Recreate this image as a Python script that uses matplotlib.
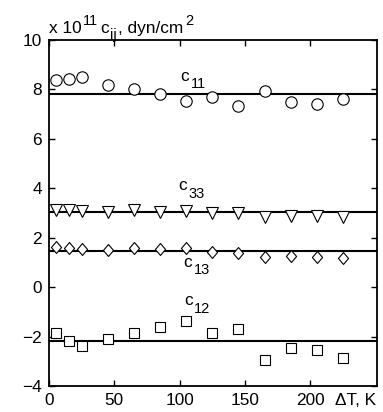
import matplotlib
matplotlib.use("Agg")
import matplotlib.pyplot as plt
from matplotlib.path import Path
from matplotlib.transforms import IdentityTransform

plt.rcParams['font.family'] = ['Liberation Sans', 'DejaVu Sans']

# Temperature offsets (K)
dT = [5, 15, 25, 45, 65, 85, 105, 125, 145, 165, 185, 205, 225]

# Elastic constants, units of 1e11 dyn/cm^2
c11 = [8.37, 8.42, 8.51, 8.17, 8.02, 7.80, 7.53, 7.68, 7.32, 7.95, 7.50, 7.41, 7.61]
c33 = [3.12, 3.12, 3.08, 3.05, 3.12, 3.06, 3.10, 2.98, 2.98, 2.84, 2.88, 2.88, 2.84]
c13 = [1.63, 1.60, 1.55, 1.52, 1.58, 1.54, 1.58, 1.43, 1.39, 1.23, 1.27, 1.23, 1.20]
c12 = [-1.87, -2.16, -2.38, -2.11, -1.85, -1.63, -1.36, -1.87, -1.69, -2.96, -2.46, -2.55, -2.87]

# Mean levels
fit_range = [0, 250]
fit_c11 = 7.80
fit_c33 = 3.05
fit_c13 = 1.46
fit_c12 = -2.18

xticks = [0, 50, 100, 150, 200]
yticks = [-4, -2, 0, 2, 4, 6, 8, 10]

FS = 12.4     # main text size
FS_SUB = 10.5 # sub/superscript size
SHIFT = 7.6   # sub/superscript baseline shift, pixels
GAP = 1.5     # spacing between text pieces, pixels

fig = plt.figure(figsize=(3.83, 4.12), dpi=100)
ax = fig.add_axes([0.128, 0.063, 0.856, 0.840])
renderer = fig.canvas.get_renderer()


def rich_text(x, y, pieces):
    """Draw a run of text pieces (text, size, baseline shift in px) left to right,
    starting at data point (x, y)."""
    x0, y0 = ax.transData.transform((x, y))
    for s, size, dy in pieces:
        t = fig.text(x0, y0 + dy, s, fontsize=size, transform=IdentityTransform(),
                     ha='left', va='baseline')
        x0 = t.get_window_extent(renderer).x1 + GAP


def const_label(x, y, idx):
    rich_text(x, y, [('c', FS, 0), (idx, FS_SUB, -SHIFT)])


diamond = Path([(0, 1), (-0.85, 0), (0, -1), (0.85, 0), (0, 1)],
               [Path.MOVETO, Path.LINETO, Path.LINETO, Path.LINETO, Path.CLOSEPOLY])

for lvl in (fit_c11, fit_c33, fit_c13, fit_c12):
    ax.plot(fit_range, [lvl, lvl], color='black', lw=1.5, zorder=2)

mk = dict(linestyle='none', markerfacecolor='white', markeredgecolor='black',
          markeredgewidth=0.8, zorder=3, clip_on=False)
ax.plot(dT, c11, marker='o', markersize=8.2, **mk)
ax.plot(dT, c33, marker='v', markersize=8.2, **mk)
ax.plot(dT, c13, marker=diamond, markersize=8.6, **mk)
ax.plot(dT, c12, marker='s', markersize=6.5, **mk)

ax.set_xlim(0, 251)
ax.set_ylim(-4, 10)
ax.set_xticks(xticks)
ax.set_yticks(yticks)
ax.tick_params(direction='in', top=True, right=True, length=4, width=1,
               labelsize=FS, pad=5)
for s in ax.spines.values():
    s.set_linewidth(1.3)

const_label(100.5, 8.35, '11')
const_label(99, 3.93, '33')
const_label(103, 0.82, '13')
const_label(103.5, -0.73, '12')

rich_text(0, 10.30, [('x 10', FS, 0), ('11', FS_SUB, SHIFT), ('c', FS, 0),
                     ('ij', FS_SUB, -6), (', dyn/cm', FS, 0), ('2', FS_SUB, SHIFT)])

ax.text(235, -4.3, 'ΔT, K', fontsize=FS, ha='center', va='top')

fig.savefig('out.png', dpi=100)
